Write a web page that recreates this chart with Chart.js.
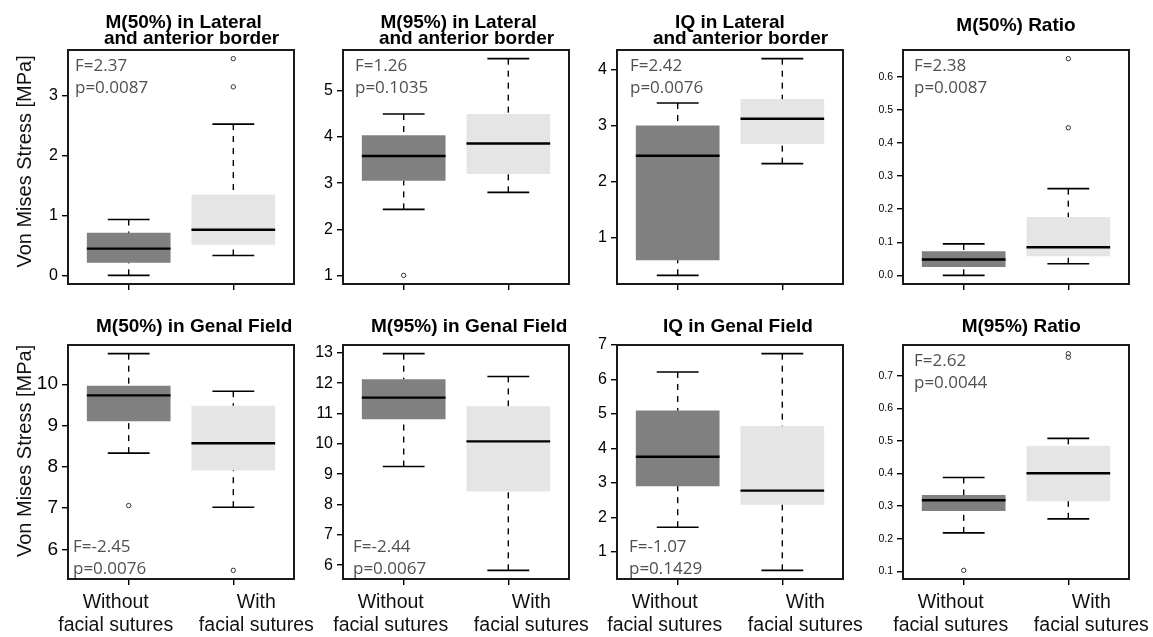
<!DOCTYPE html>
<html>
<head>
<meta charset="utf-8">
<script src="https://cdn.jsdelivr.net/npm/chart.js@4/dist/chart.umd.min.js"></script>
<style>
  html, body { margin: 0; padding: 0; background: #fff; }
  #wrap { position: relative; width: 1153px; height: 637px; overflow: hidden; }
  #wrap canvas { position: absolute; }
</style>
</head>
<body>
<div id="wrap"></div>
<script>
// ---- data (one entry per panel, [without, with] per entry)
const panelTitles = [
  ["M(50%) in Lateral", "and anterior border"],
  ["M(95%) in Lateral", "and anterior border"],
  ["IQ in Lateral", "and anterior border"],
  ["M(50%) Ratio"],
  ["M(50%) in Genal Field"],
  ["M(95%) in Genal Field"],
  ["IQ in Genal Field"],
  ["M(95%) Ratio"]
];
const groupLabels = [["Without", "facial sutures"], ["With", "facial sutures"]];
const whiskerLow  = [[0.00, 0.33], [2.43, 2.80], [0.33, 2.32], [0.000, 0.035], [8.33, 7.02], [9.25, 5.83], [1.72, 0.47], [0.218, 0.261]];
const quart1      = [[0.21, 0.51], [3.05, 3.20], [0.60, 2.67], [0.025, 0.058], [9.10, 7.91], [10.81, 8.43], [2.91, 2.37], [0.285, 0.315]];
const medians     = [[0.445, 0.76], [3.59, 3.86], [2.46, 3.12], [0.048, 0.085], [9.73, 8.57], [11.52, 10.08], [3.76, 2.78], [0.318, 0.401]];
const quart3      = [[0.71, 1.345], [4.04, 4.50], [3.00, 3.47], [0.073, 0.176], [9.96, 9.48], [12.13, 11.24], [5.10, 4.65], [0.334, 0.485]];
const whiskerHigh = [[0.93, 2.52], [4.50, 5.70], [3.40, 4.19], [0.095, 0.262], [10.74, 9.83], [12.97, 12.22], [6.22, 6.75], [0.388, 0.508]];
const outliers    = [[[], [3.14, 3.61]], [[1.00], []], [[], []], [[], [0.446, 0.655]], [[7.06], [5.49]], [[], []], [[], []], [[0.103], [0.757, 0.768]]];
const fValues = ["F=2.37", "F=1.26", "F=2.42", "F=2.38", "F=-2.45", "F=-2.44", "F=-1.07", "F=2.62"];
const pValues = ["p=0.0087", "p=0.1035", "p=0.0076", "p=0.0087", "p=0.0076", "p=0.0067", "p=0.1429", "p=0.0044"];
const yTicks = [
  [0, 1, 2, 3], [1, 2, 3, 4, 5], [1, 2, 3, 4], [0, 0.1, 0.2, 0.3, 0.4, 0.5, 0.6],
  [6, 7, 8, 9, 10], [6, 7, 8, 9, 10, 11, 12, 13], [1, 2, 3, 4, 5, 6, 7], [0.1, 0.2, 0.3, 0.4, 0.5, 0.6, 0.7]
];
const yAxisTitle = "Von Mises Stress [MPa]";

// ---- layout / style
const colPlotLeft = [68, 343, 617, 903];
const plotWidth = 226, axisW = 68, padRight = 30;
const rowTop = [0, 295], rowHeight = [300, 342], rowAxisH = [16, 58];
const titleCenter = [22.7, 22.7, 22.7, 26.2, 31.7, 31.7, 31.7, 31.7];
const titleIndent = [[1, 4], [1, 4], [0, 4], [0], [5], [5], [3], [2]];
const tickFontSize = [16, 16, 16, 10.5, 19, 16, 16, 10.5];
const tickDecimals = [0, 0, 0, 1, 0, 0, 0, 1];
const statCorner = ["top", "top", "top", "top", "bottom", "bottom", "bottom", "top"];
const statInset = [7, 12, 13, 11, 5, 10, 12, 11];
const labelShift = [-13, 23];
const boxColors = ["#808080", "#e5e5e5"];
const capHalf = 0.2;
const sans = '"Liberation Sans", Arial, sans-serif';

const boxPlugin = {
  id: "boxWhiskers",
  afterDatasetsDraw(chart, args, opts) {
    const { ctx, scales: { x, y } } = chart;
    const p = opts.panel;
    const bars = chart.getDatasetMeta(0).data;
    ctx.save();
    ctx.strokeStyle = "#000";
    for (let g = 0; g < 2; g++) {
      const cx = x.getPixelForValue(g + 1);
      // dashed whiskers, drawn from the cap toward the box
      ctx.lineWidth = 1.4;
      ctx.setLineDash([6, 6]);
      [[whiskerLow[p][g], quart1[p][g]], [whiskerHigh[p][g], quart3[p][g]]].forEach(([from, to]) => {
        ctx.beginPath();
        ctx.moveTo(cx, y.getPixelForValue(from));
        ctx.lineTo(cx, y.getPixelForValue(to));
        ctx.stroke();
      });
      ctx.setLineDash([]);
      ctx.lineWidth = 1.6;
      [whiskerLow[p][g], whiskerHigh[p][g]].forEach(v => {
        const py = y.getPixelForValue(v);
        ctx.beginPath();
        ctx.moveTo(x.getPixelForValue(g + 1 - capHalf), py);
        ctx.lineTo(x.getPixelForValue(g + 1 + capHalf), py);
        ctx.stroke();
      });
      // median
      const bar = bars[g];
      const my = y.getPixelForValue(medians[p][g]);
      ctx.lineWidth = 2.4;
      ctx.beginPath();
      ctx.moveTo(bar.x - bar.width / 2, my);
      ctx.lineTo(bar.x + bar.width / 2, my);
      ctx.stroke();
    }
    ctx.restore();
  },
  afterDraw(chart, args, opts) {
    const { ctx, chartArea, scales: { x } } = chart;
    const p = opts.panel;
    ctx.save();
    // plot frame
    ctx.strokeStyle = "#1a1a1a";
    ctx.lineWidth = 2;
    ctx.strokeRect(chartArea.left, chartArea.top, chartArea.right - chartArea.left, chartArea.bottom - chartArea.top);
    // F / p annotation
    ctx.font = '17px "Open Sans", sans-serif';
    ctx.fillStyle = "#505050";
    ctx.textAlign = "left";
    ctx.textBaseline = "alphabetic";
    const tx = chartArea.left + statInset[p];
    if (statCorner[p] === "top") {
      ctx.fillText(fValues[p], tx, chartArea.top + 21);
      ctx.fillText(pValues[p], tx, chartArea.top + 43);
    } else {
      ctx.fillText(fValues[p], tx, chartArea.bottom - 27);
      ctx.fillText(pValues[p], tx, chartArea.bottom - 5);
    }
    // group labels under the bottom row
    if (opts.groupLabels) {
      ctx.font = "19.5px " + sans;
      ctx.fillStyle = "#111";
      ctx.textAlign = "center";
      ctx.textBaseline = "middle";
      groupLabels.forEach((lines, g) => {
        const cx = x.getPixelForValue(g + 1) + labelShift[g];
        ctx.fillText(lines[0], cx, chartArea.bottom + 24);
        ctx.fillText(lines[1], cx, chartArea.bottom + 47);
      });
    }
    ctx.restore();
  }
};

const wrap = document.getElementById("wrap");

panelTitles.forEach((title, p) => {
  const row = Math.floor(p / 4), col = p % 4;
  const canvas = document.createElement("canvas");
  const w = axisW + plotWidth + padRight, h = rowHeight[row];
  canvas.width = w; canvas.height = h;
  canvas.style.left = (colPlotLeft[col] - axisW) + "px";
  canvas.style.top = rowTop[row] + "px";
  canvas.style.width = w + "px"; canvas.style.height = h + "px";
  wrap.appendChild(canvas);

  const allVals = whiskerLow[p].concat(whiskerHigh[p], outliers[p][0], outliers[p][1]);
  const lo = Math.min(...allVals), hi = Math.max(...allVals);
  const ext = (hi - lo) * 0.04;

  const lineH = 15.7;
  const padTop = titleCenter[p] - lineH / 2;
  const padBottom = 50 - padTop - title.length * lineH;

  const outlierPts = [];
  outliers[p].forEach((vals, g) => vals.forEach(v => outlierPts.push({ x: g + 1, y: v })));

  new Chart(canvas, {
    type: "bar",
    data: {
      datasets: [
        {
          type: "bar",
          data: [0, 1].map(g => ({ x: g + 1, y: [quart1[p][g], quart3[p][g]] })),
          backgroundColor: boxColors,
          borderWidth: 0,
          categoryPercentage: 1,
          barPercentage: 0.8
        },
        {
          type: "scatter",
          data: outlierPts,
          pointRadius: 2.2,
          pointBorderWidth: 1,
          pointBorderColor: "#333",
          pointBackgroundColor: "rgba(0,0,0,0)"
        }
      ]
    },
    options: {
      responsive: false,
      animation: false,
      events: [],
      layout: { padding: { right: padRight } },
      plugins: {
        legend: { display: false },
        tooltip: { enabled: false },
        title: {
          display: true,
          fullSize: false,
          text: title.map((t, i) => " ".repeat(titleIndent[p][i]) + t),
          color: "#000",
          font: { family: sans, size: 19, weight: "bold", lineHeight: lineH + "px" },
          padding: { top: padTop, bottom: padBottom }
        },
        boxWhiskers: { panel: p, groupLabels: row === 1 }
      },
      scales: {
        x: {
          type: "linear",
          min: 0.42,
          max: 2.58,
          bounds: "data",
          offset: false,
          border: { display: false },
          grid: { offset: false, drawOnChartArea: false, drawTicks: true, tickLength: 6, color: "#000", lineWidth: 1.4 },
          ticks: { display: false },
          afterBuildTicks: axis => { axis.ticks = [{ value: 1 }, { value: 2 }]; },
          afterFit: axis => { axis.height = rowAxisH[row]; }
        },
        y: {
          type: "linear",
          min: lo - ext,
          max: hi + ext,
          bounds: "data",
          beginAtZero: false,
          border: { display: false },
          grid: { drawOnChartArea: false, drawTicks: true, tickLength: 6, color: "#000", lineWidth: 1.4 },
          ticks: {
            autoSkip: false,
            padding: 4,
            color: "#000",
            font: { family: sans, size: tickFontSize[p] },
            callback: v => v.toFixed(tickDecimals[p])
          },
          title: {
            display: col === 0,
            text: " ".repeat(row === 0 ? 2 : 4) + yAxisTitle,
            color: "#111",
            font: { family: sans, size: 20, lineHeight: 1.2 },
            padding: { top: 13, bottom: 0 }
          },
          afterBuildTicks: axis => { axis.ticks = yTicks[p].map(v => ({ value: v })); },
          afterFit: axis => { axis.width = axisW; }
        }
      }
    },
    plugins: [boxPlugin]
  });
});
</script>
</body>
</html>
